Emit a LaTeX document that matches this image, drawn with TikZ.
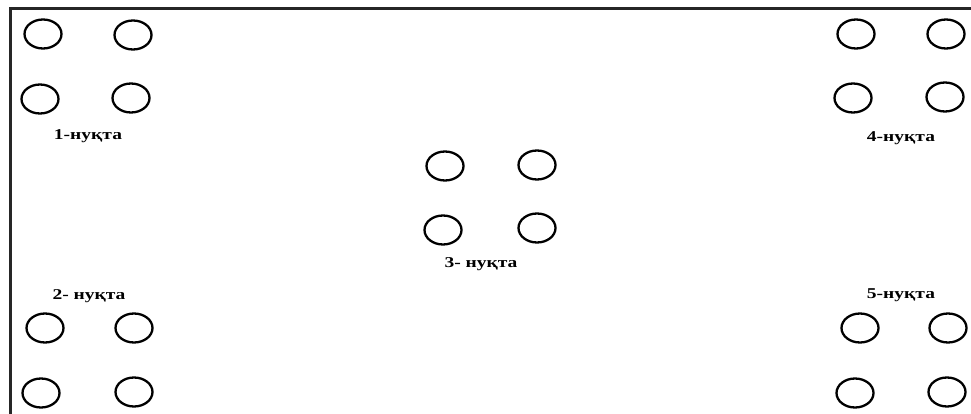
\documentclass[tikz,border=0pt]{standalone}
\usepackage{fontspec}
\setmainfont{Liberation Serif}
\usetikzlibrary{shapes.geometric}
\tikzset{
  hole/.style={ellipse, draw=black, line width=2.3pt, minimum width=37pt, minimum height=29pt, inner sep=0pt},
  lbl/.style={font=\bfseries\fontsize{15}{15}\selectfont, inner sep=0pt, xscale=1.3},
  frame/.style={line width=3pt, draw=black!85}
}
\begin{document}
\begin{tikzpicture}[x=1pt,y=-1pt]
\useasboundingbox (0,0) rectangle (971,414);
\fill[white] (0,0) rectangle (971,414);
\coordinate (fb) at (10,414);
\coordinate (fc) at (10,9);
\coordinate (fr) at (971,9);
\draw[frame] (fb) -- (fc) -- (fr);
% group 1
\node[hole] (a1) at (43,34) {};
\node[hole] (a2) at (133,35) {};
\node[hole] (a3) at (40,99) {};
\node[hole] (a4) at (131,98) {};
\node[lbl] (l1) at (88,136) {1-нуқта};
% group 2
\node[lbl] (l2) at (89,296) {2- нуқта};
\node[hole] (b1) at (45,328) {};
\node[hole] (b2) at (134,328) {};
\node[hole] (b3) at (41,393) {};
\node[hole] (b4) at (134,392) {};
% group 3
\node[hole] (c1) at (445,166) {};
\node[hole] (c2) at (537,165) {};
\node[hole] (c3) at (443,230) {};
\node[hole] (c4) at (537,228) {};
\node[lbl] (l3) at (481,264) {3- нуқта};
% group 4
\node[hole] (d1) at (856,34) {};
\node[hole] (d2) at (946,34) {};
\node[hole] (d3) at (853,98) {};
\node[hole] (d4) at (945,97) {};
\node[lbl] (l4) at (901,138) {4-нуқта};
% group 5
\node[lbl] (l5) at (901,295) {5-нуқта};
\node[hole] (e1) at (860,328) {};
\node[hole] (e2) at (948,328) {};
\node[hole] (e3) at (855,393) {};
\node[hole] (e4) at (947,392) {};
\end{tikzpicture}
\end{document}
